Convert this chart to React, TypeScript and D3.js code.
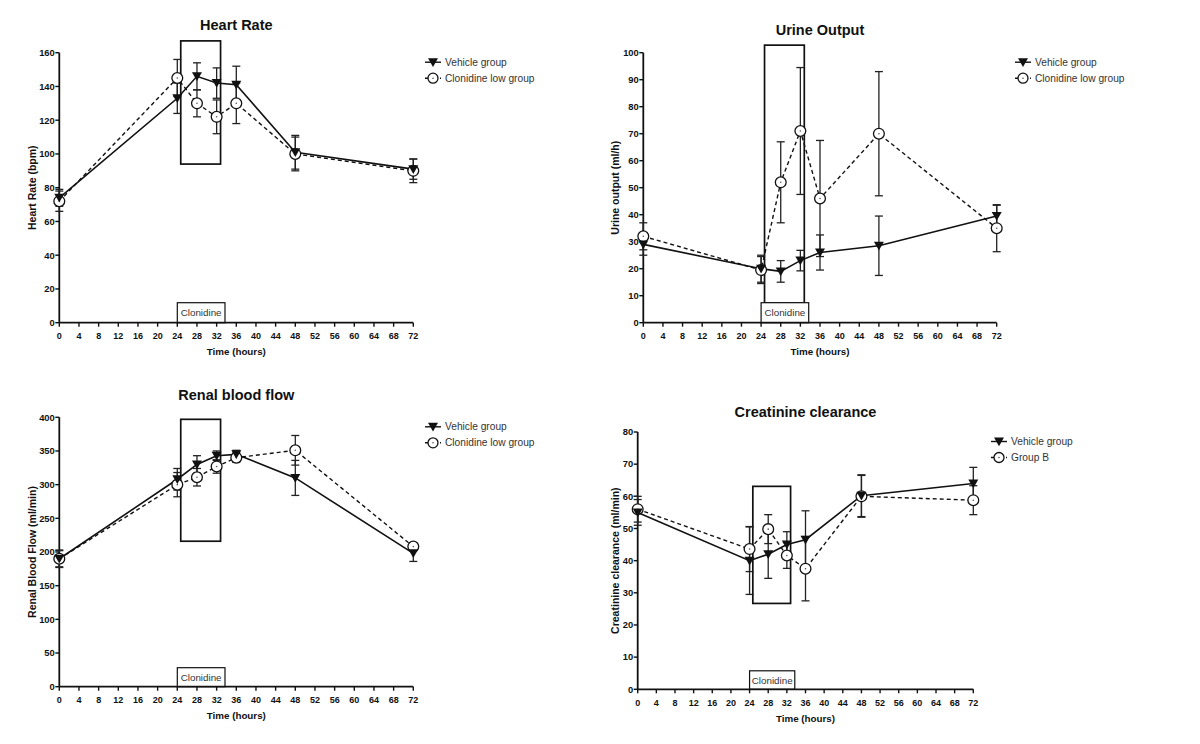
import React from "react";
import * as d3 from "d3";

// ---------- data ----------
const times = [0, 24, 28, 32, 36, 48, 72];
const xTicks = d3.range(0, 73, 4);

const hrVehicle = [74, 133, 146, 142, 141, 101, 91];
const hrVehicleErr = [5, 9, 8, 9, 11, 10, 6];
const hrClon = [72, 145, 130, 122, 130, 100, 90];
const hrClonErr = [6, 11, 8, 10, 12, 10, 7];

const uoVehicle = [29, 20, 19, 23, 26, 28.5, 39.5];
const uoVehicleErr = [4, 5, 4, 3.8, 6.5, 11, 4];
const uoClon = [32, 19.5, 52, 71, 46, 70, 35];
const uoClonErr = [5, 5, 15, 23.5, 21.5, 23, 8.7];

const rbfVehicle = [190, 308, 330, 343, 345, 310, 198];
const rbfVehicleErr = [13, 16, 13, 7, 6, 26, 12];
const rbfClon = [190, 300, 311, 327, 340, 351, 208];
const rbfClonErr = [12, 18, 13, 10, 7, 22, 5];

const ccVehicle = [55, 40, 42, 45, 46.5, 60.2, 64];
const ccVehicleErr = [4, 10.5, 7.5, 4, 9, 6.5, 5];
const ccClon = [56, 43.6, 49.8, 41.6, 37.5, 60, 58.8];
const ccClonErr = [4, 7, 4.5, 4, 10, 6.5, 4.5];

const clonidineBoxX = [24.7, 32.8];
const clonidineLabelX = [24, 33.7];

// ---------- layout ----------
type Panel = {
  title: string;
  yLabel: string;
  legend: [string, string];
  yMax: number;
  yStep: number;
  vehicle: number[];
  vehicleErr: number[];
  clon: number[];
  clonErr: number[];
  boxY: [number, number];
  left: number;
  right: number;
  top: number;
  bottom: number;
  titleY: number;
  yLabelX: number;
  legendX: number;
  labelH: number;
};

const panels: Panel[] = [
  {
    title: "Heart Rate", yLabel: "Heart Rate (bpm)", legend: ["Vehicle group", "Clonidine low group"],
    yMax: 160, yStep: 20, vehicle: hrVehicle, vehicleErr: hrVehicleErr, clon: hrClon, clonErr: hrClonErr,
    boxY: [94, 167], left: 59.3, right: 413.3, top: 52.7, bottom: 322.7, titleY: 30, yLabelX: 35.5, legendX: 425, labelH: 20,
  },
  {
    title: "Urine Output", yLabel: "Urine output (ml/h)", legend: ["Vehicle group", "Clonidine low group"],
    yMax: 100, yStep: 10, vehicle: uoVehicle, vehicleErr: uoVehicleErr, clon: uoClon, clonErr: uoClonErr,
    boxY: [7.3, 102.8], left: 643.3, right: 996.7, top: 52.7, bottom: 322.7, titleY: 35, yLabelX: 619, legendX: 1015, labelH: 20,
  },
  {
    title: "Renal blood flow", yLabel: "Renal Blood Flow (ml/min)", legend: ["Vehicle group", "Clonidine low group"],
    yMax: 400, yStep: 50, vehicle: rbfVehicle, vehicleErr: rbfVehicleErr, clon: rbfClon, clonErr: rbfClonErr,
    boxY: [216, 397], left: 59.3, right: 413.3, top: 417.3, bottom: 686.7, titleY: 400, yLabelX: 35.5, legendX: 425, labelH: 19,
  },
  {
    title: "Creatinine clearance", yLabel: "Creatinine clearance (ml/min)", legend: ["Vehicle group", "Group B"],
    yMax: 80, yStep: 10, vehicle: ccVehicle, vehicleErr: ccVehicleErr, clon: ccClon, clonErr: ccClonErr,
    boxY: [26.7, 63.1], left: 637.7, right: 973.3, top: 432, bottom: 689.3, titleY: 417, yLabelX: 619, legendX: 991, labelH: 18.5,
  },
];

const FONT = "'Liberation Sans', Arial, Helvetica, sans-serif";
const INK = "#111";

function triPath(cx: number, cy: number, s = 5) {
  return `M${cx - s},${cy - s * 0.8}L${cx + s},${cy - s * 0.8}L${cx},${cy + s * 0.95}Z`;
}

function PanelChart({ p }: { p: Panel }) {
  const x = d3.scaleLinear().domain([0, 72]).range([p.left, p.right]);
  const y = d3.scaleLinear().domain([0, p.yMax]).range([p.bottom, p.top]);
  const yTicks = d3.range(0, p.yMax + 0.001, p.yStep);
  const line = d3
    .line<number>()
    .x((_, i) => x(times[i]))
    .y((d) => y(d));
  const cx = (p.left + p.right) / 2;
  const cap = 4;

  const errBars = (vals: number[], errs: number[], key: string) =>
    vals.map((v, i) => {
      const xx = x(times[i]);
      const y1 = y(v + errs[i]);
      const y2 = y(v - errs[i]);
      return (
        <g key={key + i} stroke="#222" strokeWidth={1.3}>
          <line x1={xx} x2={xx} y1={y1} y2={y2} />
          <line x1={xx - cap} x2={xx + cap} y1={y1} y2={y1} />
          <line x1={xx - cap} x2={xx + cap} y1={y2} y2={y2} />
        </g>
      );
    });

  const ly1 = p.top + 9.5;
  const ly2 = p.top + 25.5;

  return (
    <g fontFamily={FONT}>
      {/* title */}
      <text x={cx} y={p.titleY} textAnchor="middle" fontSize={14.5} fontWeight="bold" fill={INK}>
        {p.title}
      </text>

      {/* clonidine period box */}
      <rect
        x={x(clonidineBoxX[0])}
        y={y(p.boxY[1])}
        width={x(clonidineBoxX[1]) - x(clonidineBoxX[0])}
        height={y(p.boxY[0]) - y(p.boxY[1])}
        fill="none"
        stroke={INK}
        strokeWidth={1.7}
      />
      <rect
        x={x(clonidineLabelX[0])}
        y={p.bottom - p.labelH}
        width={x(clonidineLabelX[1]) - x(clonidineLabelX[0])}
        height={p.labelH}
        fill="#fff"
        stroke={INK}
        strokeWidth={1.2}
      />
      <text
        x={(x(clonidineLabelX[0]) + x(clonidineLabelX[1])) / 2}
        y={p.bottom - p.labelH / 2 + 3.5}
        textAnchor="middle"
        fontSize={9.8}
        fill="#333"
      >
        Clonidine
      </text>

      {/* axes */}
      <line x1={p.left} x2={p.left} y1={p.top} y2={p.bottom} stroke={INK} strokeWidth={1.8} />
      <line x1={p.left} x2={p.right} y1={p.bottom} y2={p.bottom} stroke={INK} strokeWidth={1.8} />
      {yTicks.map((t) => (
        <g key={"yt" + t}>
          <line x1={p.left - 4} x2={p.left} y1={y(t)} y2={y(t)} stroke={INK} strokeWidth={1.4} />
          <text x={p.left - 4.5} y={y(t) + 3.3} textAnchor="end" fontSize={9.4} fontWeight="bold" fill={INK}>
            {t}
          </text>
        </g>
      ))}
      {xTicks.map((t) => (
        <g key={"xt" + t}>
          <line x1={x(t)} x2={x(t)} y1={p.bottom} y2={p.bottom + 4} stroke={INK} strokeWidth={1.4} />
          <text x={x(t)} y={p.bottom + 16.5} textAnchor="middle" fontSize={9} fontWeight="bold" fill={INK}>
            {t}
          </text>
        </g>
      ))}
      <text x={cx} y={p.bottom + 32.5} textAnchor="middle" fontSize={9.8} fontWeight="bold" fill={INK}>
        Time (hours)
      </text>
      <text
        transform={`translate(${p.yLabelX},${(p.top + p.bottom) / 2}) rotate(-90)`}
        textAnchor="middle"
        fontSize={10.5}
        fontWeight="bold"
        fill={INK}
      >
        {p.yLabel}
      </text>

      {/* error bars */}
      {errBars(p.clon, p.clonErr, "ce")}
      {errBars(p.vehicle, p.vehicleErr, "ve")}

      {/* lines */}
      <path d={line(p.clon) || ""} fill="none" stroke={INK} strokeWidth={1.4} strokeDasharray="4,3" />
      <path d={line(p.vehicle) || ""} fill="none" stroke={INK} strokeWidth={1.6} />

      {/* markers */}
      {p.clon.map((v, i) => (
        <g key={"cm" + i}>
          <circle cx={x(times[i])} cy={y(v)} r={5.4} fill="#fff" stroke={INK} strokeWidth={1.3} />
          <circle cx={x(times[i])} cy={y(v)} r={0.8} fill="#555" />
        </g>
      ))}
      {p.vehicle.map((v, i) => (
        <path key={"vm" + i} d={triPath(x(times[i]), y(v))} fill={INK} />
      ))}

      {/* legend */}
      <line x1={p.legendX} x2={p.legendX + 16} y1={ly1} y2={ly1} stroke={INK} strokeWidth={1.4} />
      <path d={triPath(p.legendX + 8, ly1)} fill={INK} />
      <text x={p.legendX + 20} y={ly1 + 3.5} fontSize={10.2} fill="#333">
        {p.legend[0]}
      </text>
      <line x1={p.legendX} x2={p.legendX + 16} y1={ly2} y2={ly2} stroke={INK} strokeWidth={1.4} strokeDasharray="3,2" />
      <circle cx={p.legendX + 8} cy={ly2} r={5} fill="#fff" stroke={INK} strokeWidth={1.3} />
      <circle cx={p.legendX + 8} cy={ly2} r={0.8} fill="#555" />
      <text x={p.legendX + 20} y={ly2 + 3.5} fontSize={10.2} fill="#333">
        {p.legend[1]}
      </text>
    </g>
  );
}

export default function App() {
  return (
    <div style={{ position: "fixed", left: 0, top: 0, width: 1200, height: 744, background: "#fff" }}>
      <svg width={1200} height={744} viewBox="0 0 1200 744">
        <rect width={1200} height={744} fill="#fff" />
        {panels.map((p) => (
          <PanelChart key={p.title} p={p} />
        ))}
      </svg>
    </div>
  );
}
